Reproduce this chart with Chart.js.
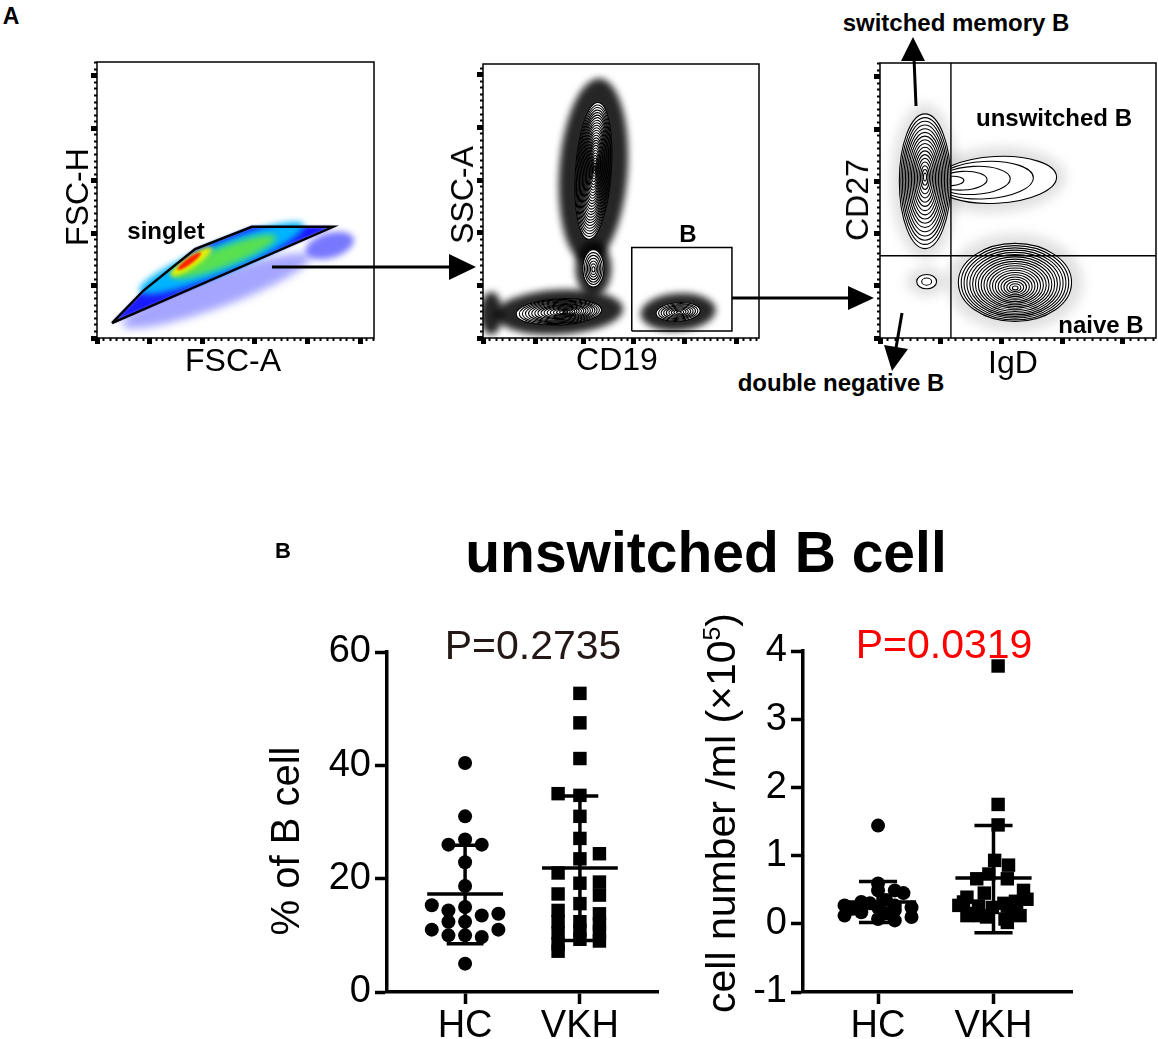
<!DOCTYPE html>
<html>
<head>
<meta charset="utf-8">
<title>unswitched B cell</title>
<script src="https://cdn.jsdelivr.net/npm/chart.js@4.4.1/dist/chart.umd.min.js"></script>
<style>
  html, body { margin: 0; padding: 0; background: #fff; overflow: hidden; }
  #page { position: relative; width: 1158px; height: 1039px; overflow: hidden;
          font-family: Arial, "Liberation Sans", Helvetica, sans-serif; }
  .box { position: absolute; }
  .txt { position: absolute; white-space: nowrap; line-height: 1; color: #000;
         transform: translate(-50%, -50%); }
  .bold { font-weight: bold; }
  .vert { transform: translate(-50%, -50%) rotate(-90deg); }
  svg { position: absolute; left: 0; top: 0; }
</style>
</head>
<body>
<div id="page">
  <!-- panel A -->
  <div class="txt bold" style="left:11px;top:16px;font-size:23px">A</div>

  <div class="box" style="left:77px;top:52px;width:307px;height:306px"><canvas id="flowFsc"></canvas></div>
  <div class="box" style="left:463px;top:54px;width:306px;height:304px"><canvas id="flowCd19"></canvas></div>
  <div class="box" style="left:860px;top:53px;width:298px;height:305px"><canvas id="flowIgd"></canvas></div>

  <div class="txt vert" style="left:77px;top:197px;font-size:32px">FSC-H</div>
  <div class="txt" style="left:233px;top:360px;font-size:32px">FSC-A</div>
  <div class="txt bold" style="left:166px;top:231px;font-size:24px">singlet</div>

  <div class="txt vert" style="left:462px;top:195px;font-size:32px">SSC-A</div>
  <div class="txt" style="left:617px;top:359px;font-size:32px">CD19</div>
  <div class="txt bold" style="left:688px;top:234px;font-size:24px">B</div>

  <div class="txt vert" style="left:857px;top:200px;font-size:32px">CD27</div>
  <div class="txt" style="left:1013px;top:362px;font-size:32px">IgD</div>
  <div class="txt bold" style="left:956px;top:23px;font-size:24px">switched memory B</div>
  <div class="txt bold" style="left:1054px;top:118px;font-size:24px">unswitched B</div>
  <div class="txt bold" style="left:1101px;top:325px;font-size:24px">naive B</div>
  <div class="txt bold" style="left:841px;top:383px;font-size:24px">double negative B</div>

  <svg width="1158" height="1039">
    <g stroke="#000" stroke-width="3" fill="#000">
      <line x1="272" y1="267" x2="452" y2="267"/>
      <polygon points="476,267 449,254 449,280" stroke="none"/>
      <line x1="732" y1="298" x2="852" y2="298"/>
      <polygon points="874,298 848,286 848,310" stroke="none"/>
      <line x1="916" y1="106" x2="914" y2="58"/>
      <polygon points="913,37 901,61 925,61" stroke="none"/>
      <line x1="902" y1="313" x2="896" y2="348"/>
      <polygon points="892,371 884,345 908,349" stroke="none"/>
    </g>
  </svg>

  <!-- panel B -->
  <div class="txt bold" style="left:283px;top:551px;font-size:22px">B</div>
  <div class="txt bold" style="left:706px;top:552px;font-size:57px">unswitched B cell</div>

  <div class="txt" id="pLeft" style="left:533px;top:645px;font-size:41px;color:#231815"></div>
  <div class="txt" id="pRight" style="left:944px;top:644px;font-size:41px;color:#ff0000"></div>

  <div class="txt vert" style="left:285px;top:841px;font-size:40px">% of B cell</div>
  <div class="txt vert" style="left:721px;top:813px;font-size:41px">cell number /ml (×10<span style="font-size:0.6em;position:relative;top:-0.6em">5</span>)</div>

  <div class="box" style="left:250px;top:600px;width:420px;height:439px"><canvas id="pctChart"></canvas></div>
  <div class="box" style="left:680px;top:600px;width:410px;height:439px"><canvas id="cntChart"></canvas></div>
</div>

<script>
// ---------- panel B values ----------
const groups = ['HC', 'VKH'];
const pValues = ['P=0.2735', 'P=0.0319'];
const pctTicks = [0, 20, 40, 60];
const cntTicks = [-1, 0, 1, 2, 3, 4];

// % of B cell
const hcPct = [40.4, 31.0, 26.0, 26.9, 26.0, 22.9, 18.7, 15.3, 14.4, 15.0,
               13.5, 13.8, 12.4, 12.4, 11.0, 11.0, 10.0, 10.0, 9.7, 5.0];
const hcPctJitter = [0, 0, -0.145, 0, 0.145, 0, 0, -0.29, -0.145, 0,
                     0.145, 0.29, -0.145, 0, -0.29, 0.29, -0.145, 0, 0.145, 0];
const vkhPct = [52.7, 47.5, 41.2, 34.7, 31.0, 27.1, 23.5, 19.2, 15.6, 12.4, 10.9, 9.3,
                35.0, 21.0, 17.3, 14.4, 12.4, 10.4, 8.5, 7.2,
                24.4, 19.4, 17.1, 13.8, 12.0, 10.6, 9.0];
const vkhPctJitter = [0, 0, 0, 0, 0, 0, 0, 0, 0, 0, 0, 0,
                      -0.19, -0.19, -0.19, -0.19, -0.19, -0.19, -0.19, -0.19,
                      0.17, 0.17, 0.17, 0.17, 0.17, 0.17, 0.17];
const pctMean = [17.3, 21.9];
const pctSdLow = [8.5, 9.1];
const pctSdHigh = [25.9, 34.6];

// cell number /ml (x10^5)
const hcCnt = [1.44, 0.59, 0.49, 0.49, 0.45, 0.35, 0.32, 0.30, 0.27, 0.27,
               0.24, 0.24, 0.22, 0.20, 0.17, 0.15, 0.12, 0.10, 0.07, 0.05];
const hcCntJitter = [0, 0, 0, 0.145, 0.22, 0.07, -0.145, -0.07, -0.29, 0.145,
                     0, 0.29, -0.22, 0.145, -0.145, 0.07, -0.29, 0.29, 0, 0.145];
const vkhCnt = [3.78, 1.75, 1.45, 0.93, 0.86, 0.73, 0.66, 0.66, 0.49, 0.45,
                0.39, 0.36, 0.33, 0.32, 0.30, 0.27, 0.26, 0.26, 0.24, 0.22,
                0.15, 0.15, 0.12, 0.12, 0.12, 0.10, 0.07, 0.02];
const vkhCntJitter = [0.04, 0.04, 0.04, 0.01, 0.13, -0.04, -0.145, 0.12, 0.26, -0.08,
                      -0.23, 0.29, 0.19, -0.26, 0.09, -0.3, -0.13, 0.12, -0.01, 0.2,
                      -0.2, 0.16, -0.23, -0.12, 0.23, -0.06, 0.1, 0.12];
const cntMean = [0.32, 0.67];
const cntSdLow = [0.02, -0.13];
const cntSdHigh = [0.62, 1.44];

// ---------- panel A gates (axis units 0-100) ----------
const singletGate = [[5.4, 5.4], [16.8, 17.2], [35.4, 32.2], [55.9, 40.3], [85.3, 40.3], [5.4, 5.4]];
const bGate = [[53.9, 2.6], [90.2, 2.6], [90.2, 33.0], [53.9, 33.0], [53.9, 2.6]];
const quadIgd = 25.7;
const quadCd27 = 29.9;

// pseudo-colour density of the singlet plot
const singletLayers = [
  { cx: 43, cy: 17, rx: 36, ry: 6, rot: -20, color: 'rgba(40,40,255,0.42)', blur: 4 },
  { cx: 84, cy: 33.5, rx: 9, ry: 4.5, rot: -16, color: 'rgba(30,30,255,0.6)', blur: 3 },
  { poly: singletGate, color: '#1a1aff', blur: 1.5 },
  { cx: 45, cy: 29, rx: 32, ry: 5.5, rot: -22, color: '#00b4ff', blur: 3 },
  { cx: 46, cy: 29.5, rx: 20, ry: 3.6, rot: -21, color: '#58e050', blur: 3 },
  { cx: 34, cy: 27.6, rx: 9, ry: 2.1, rot: -34, color: '#e8f000', blur: 2 },
  { cx: 33.3, cy: 27.8, rx: 5.2, ry: 1.1, rot: -36, color: '#ff2000', blur: 1.2 }
];

// contour populations: centre, radii, focus of the inner rings, ring count, halo size
const cd19Pops = [
  { cx: 3, cy: 9, rx: 2.5, ry: 6, rot: 0, fx: 3, fy: 9, rings: 0, hx: 1.6, hy: 1.3 },
  { cx: 40, cy: 61, rx: 6.5, ry: 25, rot: 4, fx: 40.5, fy: 62, rings: 26, hx: 1.9, hy: 1.35 },
  { cx: 40, cy: 25.4, rx: 3.8, ry: 6.8, rot: 0, fx: 40, fy: 25, rings: 7, hx: 1.7, hy: 1.5 },
  { cx: 27.5, cy: 9.5, rx: 15.5, ry: 4.8, rot: -3, fx: 30, fy: 9.5, rings: 16, hx: 1.5, hy: 1.7 },
  { cx: 70.7, cy: 9.5, rx: 8, ry: 3.4, rot: -4, fx: 71, fy: 9.4, rings: 9, hx: 1.7, hy: 2.0 }
];
const igdPops = [
  { cx: 42, cy: 57.5, rx: 22, ry: 8.5, rot: -3, fx: 22, fy: 57, rings: 5, hx: 1.15, hy: 1.4 },
  { cx: 16.3, cy: 57, rx: 9.3, ry: 24.5, rot: 0, fx: 16.3, fy: 58.6, rings: 17, hx: 1.3, hy: 1.15 },
  { cx: 48.9, cy: 20.2, rx: 20.5, ry: 14.2, rot: 0, fx: 49, fy: 18.1, rings: 20, hx: 1.2, hy: 1.25 },
  { cx: 16.9, cy: 20.5, rx: 3.6, ry: 2.6, rot: 0, fx: 16.9, fy: 20.5, rings: 2, hx: 2, hy: 2 }
];

// small dotted ticks between the big decade ticks
const minorFractions = [0.125, 0.25, 0.375, 0.5, 0.625, 0.75, 0.875];
const FONT = 'Arial, "Liberation Sans", sans-serif';

document.getElementById('pLeft').textContent = pValues[0];
document.getElementById('pRight').textContent = pValues[1];

// ---------- panel B dot plots ----------
function errorSegments(mean, lo, hi, meanHalf, capHalf) {
  const segs = [];
  mean.forEach((m, g) => {
    const c = g + 1;
    segs.push([{ x: c - meanHalf, y: m }, { x: c + meanHalf, y: m }]);
    segs.push([{ x: c, y: lo[g] }, { x: c, y: hi[g] }]);
    segs.push([{ x: c - capHalf, y: hi[g] }, { x: c + capHalf, y: hi[g] }]);
    segs.push([{ x: c - capHalf, y: lo[g] }, { x: c + capHalf, y: lo[g] }]);
  });
  return segs.map(s => ({
    data: s, showLine: true, borderColor: '#000', borderWidth: 3.5,
    pointRadius: 0, borderCapStyle: 'butt'
  }));
}

function dotPlot(id, o) {
  const datasets = [
    {
      data: o.hc.map((v, i) => ({ x: 1 + o.hcJit[i], y: v })),
      pointStyle: 'circle', pointRadius: 7, backgroundColor: '#000', borderWidth: 0
    },
    {
      data: o.vkh.map((v, i) => ({ x: 2 + o.vkhJit[i], y: v })),
      pointStyle: 'rect', pointRadius: 9.5, backgroundColor: '#000', borderWidth: 0
    }
  ].concat(errorSegments(o.mean, o.lo, o.hi, 0.33, o.cap));

  new Chart(document.getElementById(id), {
    type: 'scatter',
    data: { datasets: datasets },
    options: {
      responsive: true,
      maintainAspectRatio: false,
      animation: false,
      events: [],
      layout: { padding: o.pad, autoPadding: false },
      plugins: { legend: { display: false }, tooltip: { enabled: false } },
      scales: {
        x: {
          type: 'linear', min: o.xMin, max: o.xMax,
          afterBuildTicks: s => { s.ticks = [{ value: 1 }, { value: 2 }]; },
          ticks: { callback: v => groups[v - 1], font: { family: FONT, size: 38 }, color: '#000',
                   padding: 0, maxRotation: 0, autoSkip: false },
          grid: { drawOnChartArea: false, drawTicks: true, tickLength: 12, tickWidth: 3.5, color: '#000' },
          border: { display: true, width: 3.5, color: '#000' },
          afterFit: s => { s.height = 47; }
        },
        y: {
          type: 'linear', min: o.ticks[0], max: o.ticks[o.ticks.length - 1],
          afterBuildTicks: s => { s.ticks = o.ticks.map(v => ({ value: v })); },
          ticks: { font: { family: FONT, size: 38 }, color: '#000', padding: 4, autoSkip: false },
          grid: { drawOnChartArea: false, drawTicks: true, tickLength: 12, tickWidth: 3.5, color: '#000' },
          border: { display: true, width: 3.5, color: '#000' },
          afterFit: s => { s.width = o.yWidth; }
        }
      }
    }
  });
}

dotPlot('pctChart', {
  hc: hcPct, hcJit: hcPctJitter, vkh: vkhPct, vkhJit: vkhPctJitter,
  mean: pctMean, lo: pctSdLow, hi: pctSdHigh, cap: 0.16,
  ticks: pctTicks, xMin: 0.32, xMax: 2.68, yWidth: 137,
  pad: { left: 0, top: 52, right: 12, bottom: 0 }
});

dotPlot('cntChart', {
  hc: hcCnt, hcJit: hcCntJitter, vkh: vkhCnt, vkhJit: vkhCntJitter,
  mean: cntMean, lo: cntSdLow, hi: cntSdHigh, cap: 0.165,
  ticks: cntTicks, xMin: 0.35, xMax: 2.68, yWidth: 123,
  pad: { left: 0, top: 51, right: 18, bottom: 0 }
});

// ---------- panel A flow plots ----------
function ellipsePath(chart, cx, cy, rx, ry, rot) {
  const xs = chart.scales.x, ys = chart.scales.y;
  const kx = Math.abs(xs.getPixelForValue(1) - xs.getPixelForValue(0));
  const ky = Math.abs(ys.getPixelForValue(1) - ys.getPixelForValue(0));
  const ctx = chart.ctx;
  ctx.beginPath();
  ctx.ellipse(xs.getPixelForValue(cx), ys.getPixelForValue(cy), rx * kx, ry * ky,
              (rot || 0) * Math.PI / 180, 0, Math.PI * 2);
}

function polyPath(chart, pts) {
  const xs = chart.scales.x, ys = chart.scales.y;
  const ctx = chart.ctx;
  ctx.beginPath();
  pts.forEach((p, i) => {
    const px = xs.getPixelForValue(p[0]), py = ys.getPixelForValue(p[1]);
    if (i === 0) ctx.moveTo(px, py); else ctx.lineTo(px, py);
  });
  ctx.closePath();
}

function drawLayers(layers) {
  return (chart, ctx) => {
    layers.forEach(l => {
      ctx.save();
      ctx.filter = 'blur(' + l.blur + 'px)';
      ctx.fillStyle = l.color;
      if (l.poly) polyPath(chart, l.poly);
      else ellipsePath(chart, l.cx, l.cy, l.rx, l.ry, l.rot);
      ctx.fill();
      ctx.restore();
    });
  };
}

function drawContours(pops, halo, haloBlur) {
  return (chart, ctx) => {
    pops.forEach(p => {
      ctx.save();
      ctx.filter = 'blur(' + haloBlur + 'px)';
      ctx.fillStyle = halo;
      ellipsePath(chart, p.cx, p.cy, p.rx * p.hx, p.ry * p.hy, p.rot);
      ctx.fill();
      ctx.restore();
    });
    pops.forEach(p => {
      if (!p.rings) return;
      ellipsePath(chart, p.cx, p.cy, p.rx, p.ry, p.rot);
      ctx.fillStyle = '#fff';
      ctx.fill();
      ctx.strokeStyle = '#000';
      ctx.lineWidth = 1.1;
      for (let k = 0; k < p.rings; k++) {
        const s = 1 - k / p.rings;
        ellipsePath(chart, p.fx + (p.cx - p.fx) * s, p.fy + (p.cy - p.fy) * s,
                    p.rx * s, p.ry * s, p.rot);
        ctx.stroke();
      }
    });
  };
}

// major ticks: outer axis, long and thick; minor ticks: inner zero-width axis, short dots
function flowAxis(values, dir, major) {
  const side = dir === 'x' ? 'bottom' : 'left';
  return {
    type: 'linear', position: side, min: 0, max: 100,
    weight: major ? 1 : 0,
    afterBuildTicks: s => { s.ticks = values.map(v => ({ value: v })); },
    ticks: { display: false, autoSkip: false },
    grid: {
      drawOnChartArea: false, drawTicks: true, color: '#000',
      tickLength: major ? 6 : 3, tickWidth: major ? 5 : 2
    },
    border: { display: false },
    afterFit: s => {
      const size = major ? 10 : 0;
      if (dir === 'x') s.height = size; else s.width = size;
    }
  };
}

function minorTicks(majors) {
  const out = [];
  for (let i = 0; i < majors.length - 1; i++) {
    const step = majors[i + 1] - majors[i];
    minorFractions.forEach(f => out.push(majors[i] + f * step));
  }
  const step = majors[1] - majors[0];
  minorFractions.forEach(f => { if (majors[majors.length - 1] + f * step <= 100) out.push(majors[majors.length - 1] + f * step); });
  return out;
}

function flowPlot(id, o) {
  const datasets = o.lines.map(pts => ({
    data: pts.map(p => ({ x: p[0], y: p[1] })),
    showLine: true, borderColor: '#000', borderWidth: o.lineWidth, pointRadius: 0
  }));
  new Chart(document.getElementById(id), {
    type: 'scatter',
    data: { datasets: datasets },
    options: {
      responsive: true,
      maintainAspectRatio: false,
      animation: false,
      events: [],
      layout: { padding: { left: 10, top: 10, right: o.right, bottom: 10 }, autoPadding: false },
      plugins: { legend: { display: false }, tooltip: { enabled: false } },
      scales: {
        x: flowAxis(o.xMajor, 'x', true),
        y: flowAxis(o.yMajor, 'y', true),
        xMinor: flowAxis(minorTicks(o.xMajor), 'x', false),
        yMinor: flowAxis(minorTicks(o.yMajor), 'y', false)
      }
    },
    plugins: [
      {
        id: 'density',
        beforeDatasetsDraw(chart) {
          const { ctx, chartArea: a } = chart;
          ctx.save();
          ctx.beginPath();
          ctx.rect(a.left, a.top, a.width, a.height);
          ctx.clip();
          o.draw(chart, ctx);
          ctx.restore();
        }
      },
      {
        id: 'frame',
        afterDatasetsDraw(chart) {
          const { ctx, chartArea: a } = chart;
          ctx.save();
          ctx.strokeStyle = '#000';
          ctx.lineWidth = 1.5;
          ctx.strokeRect(a.left, a.top, a.width, a.height);
          ctx.restore();
        }
      }
    ]
  });
}

flowPlot('flowFsc', {
  right: 10, lineWidth: 2.4,
  xMajor: [0, 19, 38, 57, 76, 95], yMajor: [0, 19, 38, 57, 76, 95],
  lines: [singletGate],
  draw: drawLayers(singletLayers)
});

flowPlot('flowCd19', {
  right: 10, lineWidth: 1.5,
  xMajor: [0, 19, 36.5, 54.5, 73, 92], yMajor: [0, 19, 38.5, 57.5, 77, 96],
  lines: [bGate],
  draw: drawContours(cd19Pops, 'rgba(0,0,0,0.85)', 3.5)
});

flowPlot('flowIgd', {
  right: 2, lineWidth: 1.4,
  xMajor: [0, 22, 44, 66, 88], yMajor: [0, 19, 38, 57, 76, 95],
  lines: [[[quadIgd, 0], [quadIgd, 100]], [[0, quadCd27], [100, quadCd27]]],
  draw: drawContours(igdPops, 'rgba(0,0,0,0.12)', 6)
});
</script>
</body>
</html>
